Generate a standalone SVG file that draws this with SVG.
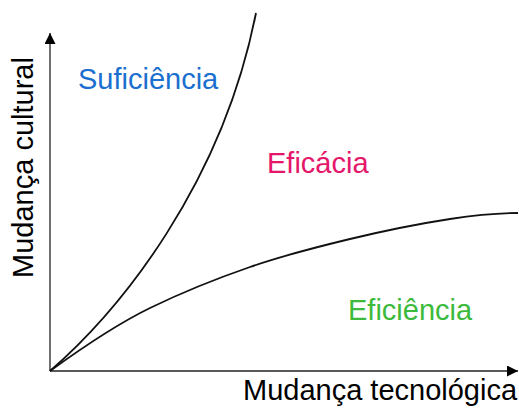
<svg xmlns="http://www.w3.org/2000/svg" width="519" height="410" viewBox="0 0 519 410">
<style>
.lbl{font-family:"Liberation Sans",Arial,sans-serif;font-size:29px}
.ax{stroke:#222;stroke-width:1.3;fill:none}
.cv{stroke:#111;stroke-width:1.8;fill:none;stroke-linejoin:round}
</style>
<defs>
<marker id="ah" viewBox="0 0 10 10" refX="10" refY="5" markerWidth="11" markerHeight="11" markerUnits="userSpaceOnUse" orient="auto">
<path d="M0,0 L10,5 L0,10 z" fill="#000"/>
</marker>
</defs>
<rect width="519" height="410" fill="#fff"/>
<g id="connectors">
<path class="ax" d="M50,371 L50,33" marker-end="url(#ah)"/>
<path class="ax" d="M50,371 L518,371" marker-end="url(#ah)"/>
<path id="curve-suficiencia" class="cv" d="M50,371 C120,310 222,185 256,13"/>
<path id="curve-eficiencia" class="cv" d="M50,371 C90,342 120.8,322.2 150,308 C179.2,293.8 216.7,278.5 250,267 C283.3,255.5 316.7,247 350,239 C383.3,231 422,223.3 450,219 C478,214.7 496,213 518,213"/>
</g>
<g id="suficiencia"><text class="lbl" x="78" y="89" fill="#1a6fcf">Suficiência</text></g>
<g id="eficacia"><text class="lbl" x="267" y="173" fill="#e5176b">Eficácia</text></g>
<g id="eficiencia"><text class="lbl" x="348" y="320" fill="#3cba3c">Eficiência</text></g>
<g id="x-label"><text class="lbl" x="243" y="400" fill="#000" font-size="29.8">Mudança tecnológica</text></g>
<g id="y-label"><text class="lbl" transform="translate(33,167.5) rotate(-90)" text-anchor="middle" fill="#000" font-size="28">Mudança cultural</text></g>
</svg>
